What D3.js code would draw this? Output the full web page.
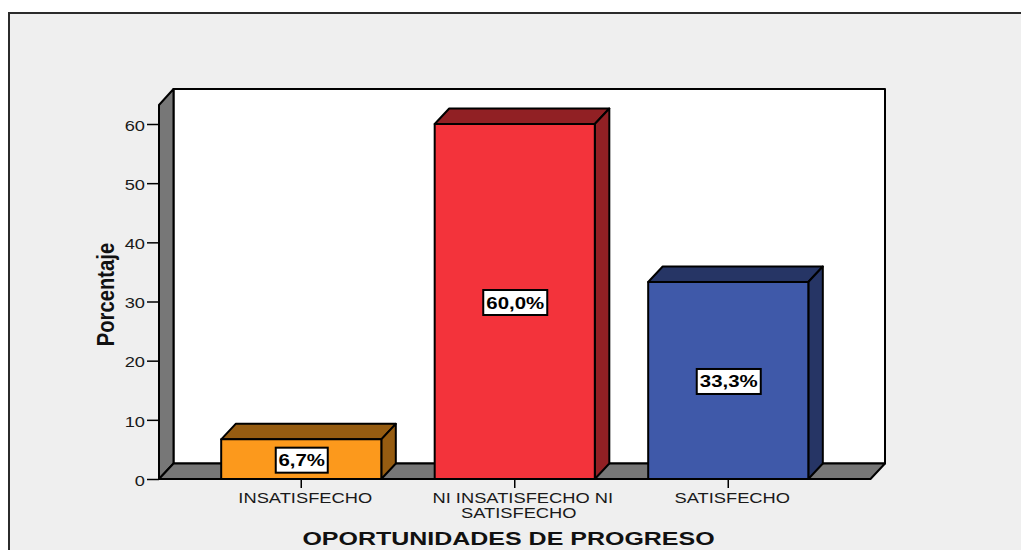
<!DOCTYPE html>
<html><head><meta charset="utf-8">
<script src="https://cdn.jsdelivr.net/npm/d3@7/dist/d3.min.js"></script>
<style>html,body{margin:0;padding:0;background:#fff}svg{display:block}text{font-family:"Liberation Sans",Arial,sans-serif}</style>
</head><body><div id="chart"></div>
<script>
const categories = ["INSATISFECHO", "NI INSATISFECHO NI SATISFECHO", "SATISFECHO"];
const categoryLines = [["INSATISFECHO"], ["NI INSATISFECHO NI", "SATISFECHO"], ["SATISFECHO"]];
const values = [6.7, 60.0, 33.3];
const valueLabels = ["6,7%", "60,0%", "33,3%"];
const frontColors = ["#fc991c", "#f3333b", "#3f59a9"];
const sideColors = ["#965c11", "#912024", "#263565"];
const yTicks = [0, 10, 20, 30, 40, 50, 60];
const xTitle = "OPORTUNIDADES DE PROGRESO";
const yTitle = "Porcentaje";

const W = 1021, H = 550, depth = 14.5, stretch = 1.22;
const svg = d3.select("#chart").append("svg").attr("width", W).attr("height", H);
svg.append("rect").attr("width", W).attr("height", H).attr("fill", "#fff");
svg.append("rect").attr("x", 9).attr("y", 13.5).attr("width", W - 9).attr("height", H - 13).attr("fill", "#efefef");
svg.append("path").attr("d", `M9,${H}V13M8,13H${W}`).attr("fill", "none").attr("stroke", "#2b2b2b").attr("stroke-width", 2);

const y = d3.scaleLinear().domain([0, 60]).range([479, 124]);
const x = d3.scaleBand().domain(categories).range([194.5, 835]).paddingInner(0.25).paddingOuter(0.125);
const left = 159, right = 870.5, top3d = 105;
const line = {stroke: "#000", "stroke-width": 2, "stroke-linejoin": "round"};
const styled = (s, o) => { Object.entries(o).forEach(([k, v]) => s.attr(k, v)); return s; };
const poly = (pts, fill, g = svg) => styled(g.append("polygon").attr("points", pts.map(p => p.join(",")).join(" ")).attr("fill", fill), line);
const wideText = (px, py, size, sx, weight, fill, t) => svg.append("text")
  .attr("transform", `translate(${px},${py}) scale(${sx},1)`).attr("text-anchor", "middle")
  .attr("font-size", size).attr("font-weight", weight).attr("fill", fill).text(t);

// back wall, left wall, floor
poly([[left + depth, top3d - depth - 1.5], [right + depth, top3d - depth - 1.5], [right + depth, y(0) - depth - 1], [left + depth, y(0) - depth - 1]], "#fff");
poly([[left, top3d], [left + depth, top3d - depth - 1.5], [left + depth, y(0) - depth - 1], [left, y(0)]], "#777777");
poly([[left, y(0)], [left + depth, y(0) - depth - 1], [right + depth, y(0) - depth - 1], [right, y(0)]], "#777777");

// y axis ticks and labels
const yAxis = d3.axisLeft(y).tickValues(yTicks).tickSize(12).tickPadding(2).tickFormat(d3.format("d"));
const gy = svg.append("g").attr("transform", `translate(${left},0)`).call(yAxis);
gy.select(".domain").remove();
gy.selectAll("line").attr("stroke", "#000").attr("stroke-width", 1.5);
gy.selectAll("text").attr("font-size", 15).attr("fill", "#1a1a1a")
  .attr("x", -14 / stretch).attr("y", 1.5).attr("transform", `scale(${stretch},1)`)
  .style("font-family", '"Liberation Sans",Arial,sans-serif');

// bars
values.forEach((v, i) => {
  const c = categories[i], x0 = x(c), x1 = x0 + x.bandwidth(), yt = y(v), yb = y(0);
  const dy = depth + 1;
  poly([[x0, yt], [x0 + depth, yt - dy], [x1 + depth, yt - dy], [x1, yt]], sideColors[i]);
  poly([[x1, yt], [x1 + depth, yt - dy], [x1 + depth, yb - dy], [x1, yb]], sideColors[i]);
  poly([[x0, yt], [x1, yt], [x1, yb], [x0, yb]], frontColors[i]);
  const cx = (x0 + x1) / 2, cy = (yt + yb) / 2;
  const wBox = i === 0 ? 52 : 64;
  svg.append("rect").attr("x", cx - wBox / 2 + 0.5).attr("y", cy - 11.5).attr("width", wBox).attr("height", 25)
    .attr("fill", "#fff").attr("stroke", "#000").attr("stroke-width", 2);
  wideText(cx + 0.5, cy + 7, 17, 1.2, "bold", "#000", valueLabels[i]);
});

// x axis
svg.append("line").attr("x1", left).attr("x2", right).attr("y1", y(0)).attr("y2", y(0)).attr("stroke", "#000").attr("stroke-width", 2);
categories.forEach((c, i) => {
  const cx = x(c) + x.bandwidth() / 2;
  svg.append("line").attr("x1", cx).attr("x2", cx).attr("y1", y(0)).attr("y2", y(0) + 9).attr("stroke", "#000").attr("stroke-width", 1.5);
  const n = categoryLines[i].length;
  categoryLines[i].forEach((t, j) => {
    const shift = n > 1 && j === 0 ? 8 : 4;
    wideText(cx + shift, 503 + j * 15, 15, stretch, "normal", "#1a1a1a", t);
  });
});

wideText(508.5, 545, 19, 1.315, "bold", "#111", xTitle);
svg.append("text").attr("transform", "translate(113.5,294.5) rotate(-90) scale(0.88,1)").attr("text-anchor", "middle")
  .attr("font-size", 23).attr("font-weight", "bold").attr("fill", "#111").text(yTitle);
</script></body></html>
